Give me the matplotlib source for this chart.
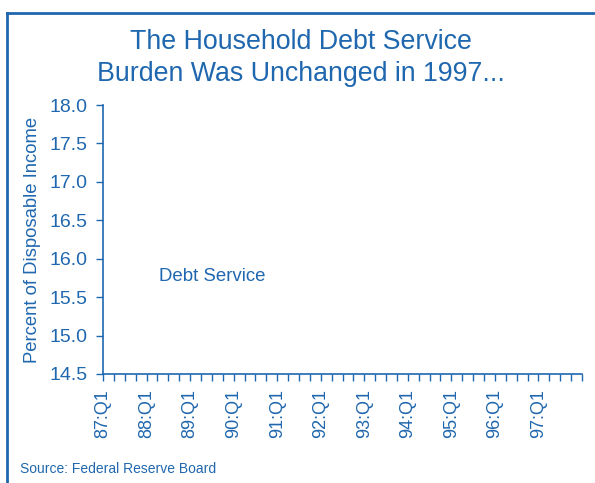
import matplotlib
matplotlib.use("Agg")
import matplotlib.pyplot as plt
from matplotlib.lines import Line2D

# ---- data ----
years = ["87", "88", "89", "90", "91", "92", "93", "94", "95", "96", "97"]
quarters_per_year = 4
n_quarters = 44  # 87:Q1 .. 98:Q1
y_ticks = [14.5, 15.0, 15.5, 16.0, 16.5, 17.0, 17.5, 18.0]
debt_service = []  # no visible series in the reference
series_label = "Debt Service"
label_pos = (5.1, 15.77)

title = "The Household Debt Service\nBurden Was Unchanged in 1997..."
ylabel = "Percent of Disposable Income"
source = "Source: Federal Reserve Board"

blue = "#1f67ae"
plt.rcParams["font.family"] = ["Liberation Sans", "DejaVu Sans"]

fig = plt.figure(figsize=(5.95, 4.83), dpi=100)
ax = fig.add_axes([103 / 595, 1 - 374 / 483, (582 - 103) / 595, (374 - 105) / 483])

ax.plot(range(len(debt_service)), debt_service, color=blue)
ax.set_xlim(0, n_quarters)
ax.set_ylim(y_ticks[0], y_ticks[-1])

ax.set_yticks(y_ticks)
ax.set_yticklabels([f"{v:.1f}" for v in y_ticks])
xt = list(range(0, n_quarters + 1))
ax.set_xticks(xt)
xl = []
for q in xt:
    if q % quarters_per_year == 0 and q // quarters_per_year < len(years):
        xl.append(f"{years[q // quarters_per_year]}:Q1")
    else:
        xl.append("")
ax.set_xticklabels(xl, rotation=90)

for s in ["top", "right"]:
    ax.spines[s].set_visible(False)
for s in ["left", "bottom"]:
    ax.spines[s].set_color(blue)
    ax.spines[s].set_linewidth(1.2)

ax.tick_params(axis="x", colors=blue, length=5, width=1.0, pad=6, labelsize=13)
ax.tick_params(axis="y", colors=blue, length=5, width=1.0, pad=6, labelsize=14)
for t in ax.get_xticklabels() + ax.get_yticklabels():
    t.set_color(blue)

ax.set_ylabel(ylabel, color=blue, fontsize=13.3, labelpad=6)
ax.text(label_pos[0], label_pos[1], series_label, color=blue, fontsize=13.4,
        ha="left", va="center")

fig.text(301 / 595, 1 - 58 / 483, title, color=blue, fontsize=19.3,
         ha="center", va="center", linespacing=1.33)
fig.text(20 / 595, 1 - 469 / 483, source, color=blue, fontsize=10,
         ha="left", va="center")

# frame border (left and top)
fig.add_artist(Line2D([7 / 595, 7 / 595], [0, 1 - 12.5 / 483], transform=fig.transFigure,
                      color=blue, linewidth=2.0))
fig.add_artist(Line2D([7 / 595, 1], [1 - 12.5 / 483, 1 - 12.5 / 483], transform=fig.transFigure,
                      color=blue, linewidth=2.0))

fig.savefig("out.png", dpi=100, facecolor="white")
